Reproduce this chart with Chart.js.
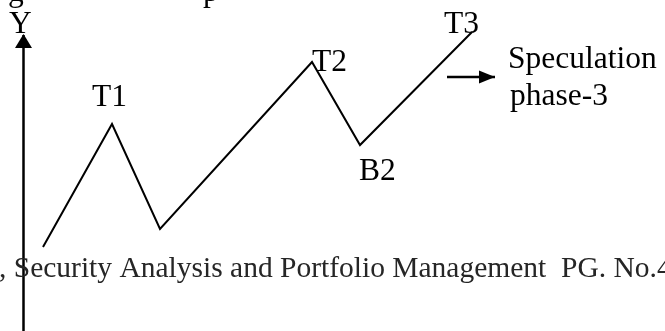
<!DOCTYPE html>
<html>
<head>
<meta charset="utf-8">
<script src="https://cdn.jsdelivr.net/npm/chart.js@4/dist/chart.umd.min.js"></script>
<style>
    html, body { margin: 0; padding: 0; background: #fff; }
</style>
</head>
<body>
<canvas id="chart" width="665" height="331"></canvas>
<script>
// Wave turning points, in a 665 x 331 frame (height counted from the bottom)
const waveX = [43, 112, 160, 312, 360, 472];
const waveY = [84, 207, 102, 269, 186, 299];

// Top / bottom names and where their text sits (left, baseline)
const peakNames = ['T1', 'T2', 'B2', 'T3'];
const peakNameX = [92, 312, 359, 444];
const peakNameY = [225, 260, 151, 298];

// Y axis with its arrow tip
const axisX = [23.5, 23.5];
const axisY = [0, 296];
const axisName = 'Y';
const axisNameX = 9;
const axisNameY = 298;

// Arrow pointing at the note
const arrowX = [447, 495];
const arrowY = [254, 254];

const noteLines = ['Speculation', 'phase-3'];
const noteX = [508, 510];
const noteY = [263, 226];

// Text cut off at the page edges
const footerText = ', Security Analysis and Portfolio Management  PG. No.4';
const footerX = -1;
const footerY = 54;
const cutWords = ['g', 'p'];
const cutX = [8, 203];
const cutY = [330, 330];

const serif = "'Liberation Serif', 'Times New Roman', serif";

function toPoints(xs, ys) {
    return xs.map((x, i) => ({ x: x, y: ys[i] }));
}

const textPlugin = {
    id: 'textPlugin',
    afterDatasetsDraw(chart) {
        const { ctx, scales: { x, y } } = chart;
        ctx.save();
        ctx.fillStyle = '#000';

        // arrow head on the Y axis
        const ax = x.getPixelForValue(axisX[1]);
        const ay = y.getPixelForValue(axisY[1]);
        ctx.beginPath();
        ctx.moveTo(ax, ay - 1);
        ctx.lineTo(ax - 8.5, ay + 13);
        ctx.lineTo(ax + 8.5, ay + 13);
        ctx.closePath();
        ctx.fill();

        // arrow head on the note arrow
        const hx = x.getPixelForValue(arrowX[1]);
        const hy = y.getPixelForValue(arrowY[1]);
        ctx.beginPath();
        ctx.moveTo(hx, hy);
        ctx.lineTo(hx - 16, hy - 6.5);
        ctx.lineTo(hx - 16, hy + 6.5);
        ctx.closePath();
        ctx.fill();

        ctx.font = '31.5px ' + serif;
        ctx.textAlign = 'left';
        ctx.textBaseline = 'alphabetic';

        peakNames.forEach((name, i) => {
            ctx.fillText(name, x.getPixelForValue(peakNameX[i]), y.getPixelForValue(peakNameY[i]));
        });
        ctx.fillText(axisName, x.getPixelForValue(axisNameX), y.getPixelForValue(axisNameY));
        noteLines.forEach((line, i) => {
            ctx.fillText(line, x.getPixelForValue(noteX[i]), y.getPixelForValue(noteY[i]));
        });
        cutWords.forEach((w, i) => {
            ctx.fillText(w, x.getPixelForValue(cutX[i]), y.getPixelForValue(cutY[i]));
        });

        ctx.font = '29.5px ' + serif;
        ctx.fillStyle = '#262626';
        ctx.fillText(footerText, x.getPixelForValue(footerX), y.getPixelForValue(footerY));
        ctx.restore();
    }
};

const config = {
    type: 'scatter',
    data: {
        datasets: [
            {
                label: 'Y axis',
                data: toPoints(axisX, axisY),
                showLine: true,
                borderColor: '#000',
                borderWidth: 2.5,
                pointRadius: 0
            },
            {
                label: 'Wave',
                data: toPoints(waveX, waveY),
                showLine: true,
                borderColor: '#000',
                borderWidth: 2,
                pointRadius: 0,
                tension: 0
            },
            {
                label: 'Arrow',
                data: toPoints(arrowX, arrowY),
                showLine: true,
                borderColor: '#000',
                borderWidth: 2.5,
                pointRadius: 0
            }
        ]
    },
    options: {
        responsive: false,
        animation: false,
        layout: { padding: 0 },
        plugins: {
            legend: { display: false },
            tooltip: { enabled: false }
        },
        scales: {
            x: { type: 'linear', min: 0, max: 665, display: false },
            y: { type: 'linear', min: 0, max: 331, display: false }
        }
    },
    plugins: [textPlugin]
};

new Chart(document.getElementById('chart').getContext('2d'), config);
</script>
</body>
</html>
